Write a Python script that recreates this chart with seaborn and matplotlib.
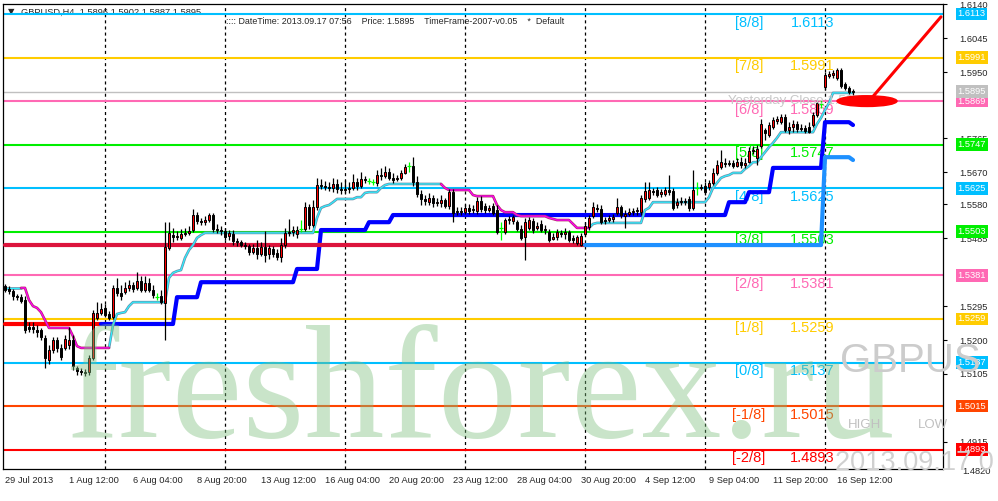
import matplotlib
matplotlib.use("Agg")
import matplotlib.pyplot as plt
import matplotlib.patheffects as pe
from matplotlib.patches import Ellipse
import numpy as np
import pandas as pd
import seaborn as sns

sns.set_style("white")
plt.rcParams['font.family'] = ['Liberation Sans', 'DejaVu Sans']
plt.rcParams['lines.scale_dashes'] = False

# GBPUSD H4 candles, 29 Jul 2013 20:00 .. 17 Sep 2013 04:00
opens = [1.5351, 1.5343, 1.5337, 1.5323, 1.5320, 1.5312, 1.5236, 1.5236, 1.5228, 1.5228,
         1.5206, 1.5144, 1.5172, 1.5200, 1.5178, 1.5178, 1.5186, 1.5200, 1.5122, 1.5113,
         1.5110, 1.5110, 1.5150, 1.5262, 1.5276, 1.5290, 1.5273, 1.5264, 1.5346, 1.5332,
         1.5334, 1.5346, 1.5354, 1.5346, 1.5365, 1.5340, 1.5360, 1.5340, 1.5320, 1.5323,
         1.5304, 1.5458, 1.5494, 1.5489, 1.5486, 1.5497, 1.5500, 1.5508, 1.5550, 1.5533,
         1.5530, 1.5536, 1.5550, 1.5511, 1.5508, 1.5505, 1.5491, 1.5497, 1.5477, 1.5474,
         1.5466, 1.5463, 1.5446, 1.5458, 1.5441, 1.5460, 1.5441, 1.5455, 1.5444, 1.5432,
         1.5466, 1.5500, 1.5502, 1.5497, 1.5511, 1.5511, 1.5572, 1.5522, 1.5572, 1.5634,
         1.5631, 1.5628, 1.5626, 1.5637, 1.5623, 1.5620, 1.5623, 1.5626, 1.5642, 1.5631,
         1.5651, 1.5645, 1.5642, 1.5640, 1.5662, 1.5659, 1.5670, 1.5654, 1.5651, 1.5654,
         1.5668, 1.5687, 1.5687, 1.5642, 1.5609, 1.5595, 1.5586, 1.5598, 1.5584, 1.5584,
         1.5592, 1.5575, 1.5614, 1.5558, 1.5561, 1.5558, 1.5570, 1.5564, 1.5561, 1.5589,
         1.5575, 1.5564, 1.5575, 1.5564, 1.5514, 1.5502, 1.5536, 1.5533, 1.5530, 1.5511,
         1.5489, 1.5514, 1.5533, 1.5514, 1.5525, 1.5508, 1.5502, 1.5483, 1.5489, 1.5500,
         1.5497, 1.5502, 1.5486, 1.5472, 1.5466, 1.5497, 1.5516, 1.5547, 1.5570, 1.5567,
         1.5536, 1.5536, 1.5539, 1.5556, 1.5572, 1.5547, 1.5553, 1.5558, 1.5561, 1.5558,
         1.5595, 1.5598, 1.5617, 1.5620, 1.5609, 1.5609, 1.5620, 1.5617, 1.5578, 1.5586,
         1.5589, 1.5595, 1.5570, 1.5626, 1.5626, 1.5631, 1.5628, 1.5640, 1.5668, 1.5684,
         1.5696, 1.5693, 1.5696, 1.5687, 1.5698, 1.5690, 1.5698, 1.5729, 1.5710, 1.5743,
         1.5788, 1.5774, 1.5796, 1.5813, 1.5810, 1.5824, 1.5788, 1.5796, 1.5805, 1.5791,
         1.5794, 1.5796, 1.5802, 1.5830, 1.5861, 1.5908, 1.5939, 1.5942, 1.5934, 1.5956,
         1.5917, 1.5906, 1.5896]
highs = [1.5357, 1.5351, 1.5343, 1.5329, 1.5329, 1.5323, 1.5250, 1.5250, 1.5242, 1.5234,
         1.5214, 1.5186, 1.5208, 1.5208, 1.5189, 1.5214, 1.5236, 1.5214, 1.5127, 1.5122,
         1.5119, 1.5158, 1.5284, 1.5306, 1.5304, 1.5301, 1.5281, 1.5354, 1.5374, 1.5354,
         1.5362, 1.5368, 1.5362, 1.5390, 1.5379, 1.5379, 1.5374, 1.5354, 1.5332, 1.5340,
         1.5530, 1.5530, 1.5514, 1.5505, 1.5511, 1.5514, 1.5519, 1.5567, 1.5558, 1.5542,
         1.5547, 1.5556, 1.5556, 1.5525, 1.5519, 1.5514, 1.5508, 1.5508, 1.5486, 1.5480,
         1.5474, 1.5469, 1.5469, 1.5480, 1.5474, 1.5505, 1.5466, 1.5463, 1.5455, 1.5486,
         1.5514, 1.5539, 1.5519, 1.5519, 1.5536, 1.5586, 1.5581, 1.5592, 1.5654, 1.5651,
         1.5645, 1.5642, 1.5654, 1.5651, 1.5642, 1.5648, 1.5642, 1.5665, 1.5654, 1.5670,
         1.5659, 1.5654, 1.5651, 1.5676, 1.5682, 1.5687, 1.5682, 1.5668, 1.5662, 1.5676,
         1.5693, 1.5698, 1.5712, 1.5659, 1.5620, 1.5606, 1.5612, 1.5606, 1.5598, 1.5606,
         1.5598, 1.5623, 1.5623, 1.5572, 1.5572, 1.5581, 1.5581, 1.5578, 1.5600, 1.5603,
         1.5584, 1.5578, 1.5584, 1.5578, 1.5530, 1.5542, 1.5547, 1.5550, 1.5536, 1.5522,
         1.5542, 1.5544, 1.5542, 1.5530, 1.5536, 1.5522, 1.5511, 1.5500, 1.5511, 1.5508,
         1.5514, 1.5508, 1.5494, 1.5494, 1.5500, 1.5530, 1.5550, 1.5586, 1.5581, 1.5578,
         1.5544, 1.5550, 1.5553, 1.5598, 1.5578, 1.5564, 1.5570, 1.5570, 1.5572, 1.5606,
         1.5642, 1.5642, 1.5626, 1.5628, 1.5623, 1.5628, 1.5662, 1.5626, 1.5598, 1.5600,
         1.5598, 1.5603, 1.5676, 1.5642, 1.5637, 1.5642, 1.5648, 1.5682, 1.5704, 1.5732,
         1.5710, 1.5704, 1.5704, 1.5710, 1.5712, 1.5710, 1.5740, 1.5743, 1.5746, 1.5819,
         1.5794, 1.5810, 1.5824, 1.5827, 1.5833, 1.5833, 1.5810, 1.5816, 1.5813, 1.5805,
         1.5802, 1.5810, 1.5838, 1.5872, 1.5872, 1.5950, 1.5953, 1.5956, 1.5962, 1.5962,
         1.5922, 1.5911, 1.5902]
lows = [1.5334, 1.5329, 1.5312, 1.5312, 1.5304, 1.5220, 1.5222, 1.5220, 1.5208, 1.5200,
        1.5122, 1.5133, 1.5164, 1.5166, 1.5144, 1.5172, 1.5175, 1.5116, 1.5102, 1.5102,
        1.5099, 1.5102, 1.5144, 1.5256, 1.5270, 1.5264, 1.5256, 1.5259, 1.5323, 1.5312,
        1.5329, 1.5337, 1.5334, 1.5340, 1.5334, 1.5334, 1.5334, 1.5318, 1.5312, 1.5301,
        1.5200, 1.5452, 1.5474, 1.5480, 1.5480, 1.5491, 1.5494, 1.5502, 1.5525, 1.5522,
        1.5522, 1.5530, 1.5502, 1.5500, 1.5494, 1.5480, 1.5480, 1.5466, 1.5463, 1.5460,
        1.5455, 1.5438, 1.5441, 1.5427, 1.5435, 1.5418, 1.5427, 1.5432, 1.5424, 1.5418,
        1.5458, 1.5491, 1.5491, 1.5486, 1.5502, 1.5505, 1.5511, 1.5516, 1.5564, 1.5623,
        1.5620, 1.5617, 1.5614, 1.5612, 1.5609, 1.5612, 1.5612, 1.5620, 1.5620, 1.5626,
        1.5640, 1.5637, 1.5634, 1.5631, 1.5648, 1.5654, 1.5648, 1.5640, 1.5645, 1.5648,
        1.5665, 1.5670, 1.5631, 1.5600, 1.5578, 1.5578, 1.5578, 1.5572, 1.5575, 1.5572,
        1.5570, 1.5567, 1.5530, 1.5550, 1.5550, 1.5553, 1.5553, 1.5556, 1.5553, 1.5558,
        1.5556, 1.5558, 1.5550, 1.5497, 1.5480, 1.5497, 1.5525, 1.5525, 1.5505, 1.5480,
        1.5424, 1.5508, 1.5500, 1.5508, 1.5502, 1.5497, 1.5474, 1.5480, 1.5480, 1.5489,
        1.5483, 1.5474, 1.5472, 1.5466, 1.5463, 1.5491, 1.5508, 1.5542, 1.5558, 1.5525,
        1.5525, 1.5530, 1.5530, 1.5550, 1.5542, 1.5514, 1.5547, 1.5550, 1.5550, 1.5550,
        1.5586, 1.5592, 1.5606, 1.5600, 1.5600, 1.5603, 1.5606, 1.5564, 1.5570, 1.5578,
        1.5578, 1.5561, 1.5564, 1.5606, 1.5620, 1.5606, 1.5620, 1.5634, 1.5662, 1.5679,
        1.5684, 1.5687, 1.5682, 1.5684, 1.5682, 1.5682, 1.5696, 1.5721, 1.5690, 1.5738,
        1.5760, 1.5768, 1.5791, 1.5805, 1.5805, 1.5782, 1.5777, 1.5782, 1.5782, 1.5785,
        1.5780, 1.5780, 1.5796, 1.5824, 1.5850, 1.5900, 1.5934, 1.5934, 1.5928, 1.5906,
        1.5900, 1.5889, 1.5887]
closes = [1.5340, 1.5337, 1.5323, 1.5320, 1.5309, 1.5228, 1.5231, 1.5231, 1.5222, 1.5208,
          1.5150, 1.5172, 1.5200, 1.5178, 1.5152, 1.5203, 1.5200, 1.5127, 1.5113, 1.5110,
          1.5108, 1.5150, 1.5276, 1.5276, 1.5287, 1.5270, 1.5262, 1.5346, 1.5332, 1.5323,
          1.5346, 1.5354, 1.5343, 1.5365, 1.5340, 1.5360, 1.5340, 1.5326, 1.5320, 1.5306,
          1.5460, 1.5500, 1.5489, 1.5491, 1.5497, 1.5500, 1.5505, 1.5550, 1.5533, 1.5530,
          1.5536, 1.5550, 1.5511, 1.5508, 1.5505, 1.5489, 1.5500, 1.5477, 1.5474, 1.5466,
          1.5463, 1.5446, 1.5458, 1.5441, 1.5460, 1.5438, 1.5458, 1.5441, 1.5432, 1.5466,
          1.5500, 1.5502, 1.5508, 1.5508, 1.5511, 1.5572, 1.5522, 1.5572, 1.5634, 1.5631,
          1.5628, 1.5626, 1.5637, 1.5623, 1.5620, 1.5623, 1.5626, 1.5642, 1.5631, 1.5651,
          1.5648, 1.5645, 1.5642, 1.5662, 1.5659, 1.5670, 1.5654, 1.5648, 1.5654, 1.5668,
          1.5684, 1.5687, 1.5642, 1.5609, 1.5595, 1.5589, 1.5598, 1.5584, 1.5586, 1.5592,
          1.5575, 1.5614, 1.5556, 1.5561, 1.5558, 1.5570, 1.5561, 1.5567, 1.5589, 1.5567,
          1.5564, 1.5570, 1.5556, 1.5502, 1.5514, 1.5536, 1.5539, 1.5544, 1.5511, 1.5486,
          1.5530, 1.5536, 1.5508, 1.5519, 1.5508, 1.5511, 1.5480, 1.5489, 1.5502, 1.5497,
          1.5502, 1.5480, 1.5480, 1.5489, 1.5491, 1.5519, 1.5542, 1.5572, 1.5567, 1.5530,
          1.5533, 1.5542, 1.5544, 1.5572, 1.5550, 1.5553, 1.5558, 1.5561, 1.5564, 1.5598,
          1.5617, 1.5620, 1.5614, 1.5606, 1.5614, 1.5620, 1.5614, 1.5570, 1.5586, 1.5589,
          1.5586, 1.5570, 1.5620, 1.5626, 1.5628, 1.5614, 1.5640, 1.5668, 1.5690, 1.5698,
          1.5693, 1.5696, 1.5687, 1.5698, 1.5690, 1.5696, 1.5729, 1.5732, 1.5735, 1.5805,
          1.5780, 1.5802, 1.5816, 1.5819, 1.5824, 1.5788, 1.5796, 1.5805, 1.5791, 1.5794,
          1.5785, 1.5782, 1.5830, 1.5864, 1.5861, 1.5942, 1.5945, 1.5948, 1.5956, 1.5911,
          1.5906, 1.5894, 1.5895]

# trend envelope (thin line), cyan while rising, magenta while falling
envelope = [1.5346, 1.5346, 1.5346, 1.5346, 1.5346, 1.5346, 1.5312, 1.5295, 1.5290, 1.5278,
            1.5256, 1.5234, 1.5234, 1.5234, 1.5234, 1.5234, 1.5234, 1.5211, 1.5183, 1.5178,
            1.5178, 1.5178, 1.5178, 1.5178, 1.5178, 1.5178, 1.5178, 1.5242, 1.5273, 1.5276,
            1.5278, 1.5295, 1.5306, 1.5306, 1.5306, 1.5306, 1.5306, 1.5306, 1.5306, 1.5306,
            1.5306, 1.5374, 1.5388, 1.5393, 1.5396, 1.5430, 1.5452, 1.5466, 1.5486, 1.5494,
            1.5500, 1.5500, 1.5500, 1.5500, 1.5500, 1.5500, 1.5500, 1.5500, 1.5500, 1.5500,
            1.5500, 1.5500, 1.5500, 1.5500, 1.5500, 1.5500, 1.5500, 1.5500, 1.5500, 1.5500,
            1.5500, 1.5500, 1.5500, 1.5500, 1.5500, 1.5500, 1.5500, 1.5500, 1.5542, 1.5570,
            1.5575, 1.5578, 1.5586, 1.5595, 1.5595, 1.5595, 1.5595, 1.5595, 1.5600, 1.5600,
            1.5612, 1.5614, 1.5614, 1.5614, 1.5626, 1.5634, 1.5637, 1.5637, 1.5637, 1.5637,
            1.5637, 1.5637, 1.5637, 1.5637, 1.5637, 1.5637, 1.5637, 1.5637, 1.5637, 1.5637,
            1.5626, 1.5620, 1.5620, 1.5620, 1.5620, 1.5620, 1.5620, 1.5606, 1.5603, 1.5603,
            1.5603, 1.5603, 1.5603, 1.5578, 1.5564, 1.5558, 1.5558, 1.5558, 1.5550, 1.5547,
            1.5547, 1.5547, 1.5547, 1.5547, 1.5547, 1.5547, 1.5542, 1.5539, 1.5536, 1.5536,
            1.5536, 1.5536, 1.5525, 1.5514, 1.5514, 1.5514, 1.5514, 1.5525, 1.5528, 1.5528,
            1.5528, 1.5528, 1.5528, 1.5528, 1.5528, 1.5528, 1.5528, 1.5528, 1.5528, 1.5528,
            1.5564, 1.5570, 1.5586, 1.5586, 1.5586, 1.5586, 1.5586, 1.5586, 1.5586, 1.5586,
            1.5586, 1.5586, 1.5586, 1.5586, 1.5586, 1.5586, 1.5600, 1.5626, 1.5640, 1.5654,
            1.5659, 1.5662, 1.5668, 1.5668, 1.5668, 1.5679, 1.5687, 1.5698, 1.5698, 1.5712,
            1.5726, 1.5740, 1.5752, 1.5766, 1.5782, 1.5782, 1.5782, 1.5782, 1.5782, 1.5782,
            1.5782, 1.5782, 1.5782, 1.5805, 1.5822, 1.5844, 1.5864, 1.5892, 1.5892, 1.5892,
            1.5892, 1.5892, 1.5892]
env_up_spans = [(0, 4), (26, 109), (146, 212)]
env_dn_spans = [(4, 26), (109, 146)]

# stepped support line (red, then thick blue)
support_start = [0, 43, 49, 73, 79, 91, 97, 181, 186, 192, 205, 212]
support_level = [1.5245, 1.5320, 1.5362, 1.5399, 1.5508, 1.5530, 1.5550, 1.5586, 1.5614, 1.5682, 1.5810, 1.5802]
support_switch = 24
# second level line (crimson, then dodger blue)
level2_start = [0, 205, 212]
level2_level = [1.5466, 1.5712, 1.5704]
level2_switch = 145

# Murrey math levels
mm_levels = [1.6113, 1.5991, 1.5869, 1.5747, 1.5625, 1.5503, 1.5381, 1.5259, 1.5137, 1.5015, 1.4893]
mm_names = ["[8/8]", "[7/8]", "[6/8]", "[5/8]", "[4/8]", "[3/8]", "[2/8]", "[1/8]", "[0/8]", "[-1/8]", "[-2/8]"]
mm_colors = ["#00BFFF", "#FFCC00", "#FF69B4", "#00EE00", "#00BFFF", "#00EE00", "#FF69B4",
             "#FFCC00", "#00BFFF", "#FF4500", "#FF0000"]
last_price = 1.5895
yesterday_close = 1.5872

price_ticks = [1.6140, 1.6045, 1.5950, 1.5765, 1.5670, 1.5580, 1.5485, 1.5295, 1.5200, 1.5105, 1.4915]
date_ticks = [0, 16, 32, 48, 64, 80, 96, 112, 128, 144, 160, 176, 192, 208]
date_labels = ["29 Jul 2013", "1 Aug 12:00", "6 Aug 04:00", "8 Aug 20:00", "13 Aug 12:00",
               "16 Aug 04:00", "20 Aug 20:00", "23 Aug 12:00", "28 Aug 04:00", "30 Aug 20:00",
               "4 Sep 12:00", "9 Sep 04:00", "11 Sep 20:00", "16 Sep 12:00"]
week_starts = [25, 55, 85, 115, 145, 175, 205]


def expand_steps(starts, levels, n):
    lengths = np.diff(starts + [n])
    return np.repeat(levels, lengths)


n = len(closes)
df = pd.DataFrame({"bar": np.arange(n), "open": opens, "high": highs,
                   "low": lows, "close": closes, "env": envelope})
df["support"] = expand_steps(support_start, support_level, n)
df["level2"] = expand_steps(level2_start, level2_level, n)

fig = plt.figure(figsize=(9.98, 5.01), dpi=100)
ax = fig.add_axes([0.003, 0.0639, 0.9419, 0.9282])
ax.set_xlim(-0.5, 234.5)
ax.set_ylim(1.4839, 1.6141)

# weekly separators
for w in week_starts:
    ax.axvline(w, color="black", lw=0.9, ls=(0, (2.2, 2.2)), zorder=1)

# Murrey lines + labels
for lvl, name, col in zip(mm_levels, mm_names, mm_colors):
    ax.axhline(lvl, color=col, lw=1.5, zorder=2)
    ax.text(186, lvl - 0.0024, name, color=col, fontsize=10.5, ha="center", va="center", zorder=2.2)
    ax.text(201.8, lvl - 0.0024, f"{lvl:.4f}", color=col, fontsize=10.5, ha="center", va="center", zorder=2.2)
ax.axhline(last_price, color="#C0C0C0", lw=1.0, zorder=2)

# support / level lines
seg = df.iloc[:support_switch + 1]
sns.lineplot(x=seg.bar, y=seg.support, ax=ax, color="#FF0000", lw=3, zorder=3)
seg = df.iloc[support_switch:]
sns.lineplot(x=seg.bar, y=seg.support, ax=ax, color="#0000FF", lw=3, zorder=3)
seg = df.iloc[:level2_switch + 1]
sns.lineplot(x=seg.bar, y=seg.level2, ax=ax, color="#DC143C", lw=3, zorder=3)
seg = df.iloc[level2_switch:]
sns.lineplot(x=seg.bar, y=seg.level2, ax=ax, color="#1E90FF", lw=3, zorder=3)

# trend envelope
for a, b in env_up_spans:
    seg = df.iloc[a:b + 1]
    sns.lineplot(x=seg.bar, y=seg.env, ax=ax, color="#2EF0FF", lw=0.9, zorder=3.5,
                 path_effects=[pe.Stroke(linewidth=1.9, foreground="#6C8AA6"), pe.Normal()])
for a, b in env_dn_spans:
    seg = df.iloc[a:b + 1]
    sns.lineplot(x=seg.bar, y=seg.env, ax=ax, color="#FF00FF", lw=0.9, zorder=3.5,
                 path_effects=[pe.Stroke(linewidth=1.9, foreground="#B03060"), pe.Normal()])

# candles
bull = df.close > df.open
bear = df.close < df.open
doji = df.close == df.open
body_lo = np.minimum(df.open, df.close)
body_h = np.maximum((df.close - df.open).abs(), 0.00012)
ax.vlines(df.bar[~doji], df.low[~doji], df.high[~doji], color="black", lw=0.9, zorder=4)
ax.bar(df.bar[bull], body_h[bull], bottom=body_lo[bull], width=0.72, color="#FF0000",
       edgecolor="black", lw=0.7, zorder=4.1)
ax.bar(df.bar[bear], body_h[bear], bottom=body_lo[bear], width=0.72, color="black",
       edgecolor="black", lw=0.7, zorder=4.1)
ax.vlines(df.bar[doji], df.low[doji], df.high[doji], color="#00FF00", lw=0.9, zorder=4)
ax.hlines(df.close[doji], df.bar[doji] - 0.45, df.bar[doji] + 0.45, color="#00FF00", lw=0.9, zorder=4)

ax.text(180.8, yesterday_close - 0.0003, f"Yesterday Close {yesterday_close:.4f}", color="#C8C8C8",
        fontsize=9.5, ha="left", va="center", zorder=4.5)

# red marker and arrow
ax.add_patch(Ellipse((215.5, 1.5869), 15, 0.0030, color="#FF0000", zorder=6))
ax.plot([217, 234], [1.5882, 1.6105], color="#FF0000", lw=2.2, zorder=6, solid_capstyle="round")

# watermark and overlays
ax.text(0.065, 0.127, "freshforex.ru", transform=fig.transFigure, fontsize=115,
        family="Liberation Serif", color="#7FC07F", alpha=0.42, zorder=5, clip_on=False)
fig.text(0.842, 0.2575, "GBPUS", fontsize=29, color="#CCCCCC", va="baseline")
fig.text(0.850, 0.152, "HIGH", fontsize=9.5, color="#C0C0C0", va="center")
fig.text(0.920, 0.152, "LOW", fontsize=9.5, color="#C0C0C0", va="center")
fig.text(0.837, 0.062, "2013.09.17 0", fontsize=19.5, color="#D0D0D0", va="baseline")

# header
ax.text(8 / 998, 1 - 12 / 501, "\u25bc", transform=fig.transFigure, fontsize=6, va="center",
        family="DejaVu Sans", zorder=1.5)
ax.text(21 / 998, 1 - 12 / 501, "GBPUSD,H4  1.5896 1.5902 1.5887 1.5895", transform=fig.transFigure,
        fontsize=6.7, va="center", zorder=1.5)
ax.text(226 / 998, 1 - 22 / 501,
        ":::: DateTime: 2013.09.17 07:56    Price: 1.5895    TimeFrame-2007-v0.05    *  Default",
        transform=fig.transFigure, fontsize=6.4, va="center", zorder=1.5)

# axes styling
ax.yaxis.tick_right()
ax.set_yticks(price_ticks)
ax.set_yticklabels([f"{p:.4f}" for p in price_ticks])
ax.set_xticks(date_ticks)
ax.set_xticklabels(date_labels)
for lab in ax.get_xticklabels():
    lab.set_ha("left")
ax.tick_params(axis="both", labelsize=6.7, length=3, width=0.8, color="black", direction="out")
ax.tick_params(axis="y", pad=9)
ax.tick_params(axis="x", pad=2)
ax.set_xlabel("")
ax.set_ylabel("")
for sp in ax.spines.values():
    sp.set_color("black")
    sp.set_linewidth(0.9)
ax.text(1.0205, -0.005, "1.4820", transform=ax.transAxes, fontsize=6.7, va="center", ha="left")

# coloured price boxes on the scale
tr = ax.get_yaxis_transform()
for lvl, col in zip(mm_levels, mm_colors):
    ax.text(1.0155, lvl, f"{lvl:.4f}", transform=tr, fontsize=6.7, color="white", va="center",
            ha="left", clip_on=False, zorder=7,
            bbox=dict(boxstyle="square,pad=0.2", fc=col, ec="none"))
ax.text(1.0155, last_price, f"{last_price:.4f}", transform=tr, fontsize=6.7, color="white",
        va="center", ha="left", clip_on=False, zorder=7,
        bbox=dict(boxstyle="square,pad=0.2", fc="#C0C0C0", ec="none"))

fig.savefig("out.png", dpi=100)
